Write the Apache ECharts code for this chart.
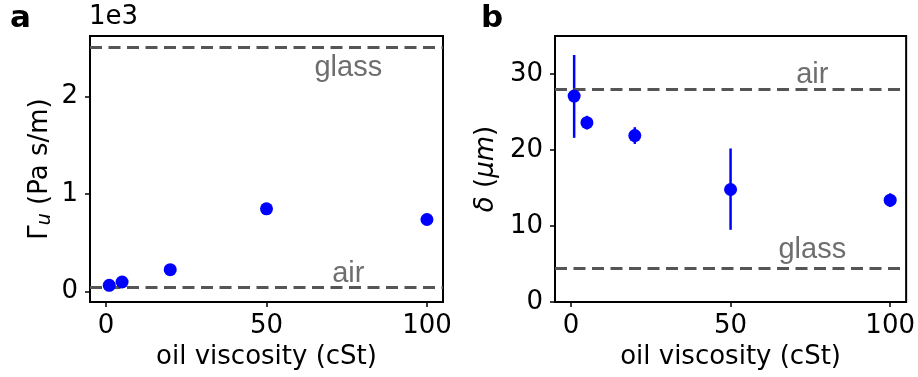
<!DOCTYPE html>
<html>
<head>
<meta charset="utf-8">
<script src="https://cdn.jsdelivr.net/npm/echarts@6/dist/echarts.min.js"></script>
<style>
  html, body { margin: 0; padding: 0; background: #fff; }
  #chart { width: 918px; height: 377px; }
</style>
</head>
<body>
<div id="chart"></div>
<script>
// oil viscosity (cSt)
const viscosity = [1, 5, 20, 50, 100];
// panel a: Gamma_u (Pa s/m)
const gammaU = [61, 95, 222, 846, 737];
const gammaAir = 45;
const gammaGlass = 2500;
// panel b: delta (um) with error bars
const delta = [27.1, 23.6, 21.9, 14.8, 13.4];
const deltaLow = [21.6, 22.7, 20.8, 9.5, 12.5];
const deltaHigh = [32.5, 24.5, 23.0, 20.2, 14.3];
const deltaAir = 28.0;
const deltaGlass = 4.5;
// tick labels
const xTicks = [0, 50, 100];
const gammaTicks = [0, 1000, 2000];
const deltaTicks = [0, 10, 20, 30];

const FONT = 'DejaVu Sans';
const FS = 26;
const BLUE = '#0000ff';
const GREY = '#555555';

const chart = echarts.init(document.getElementById('chart'));

function xAxisOpt(gridIndex) {
  return {
    type: 'value', gridIndex, min: -5, max: 105,
    name: 'oil viscosity (cSt)', nameLocation: 'middle', nameGap: 42,
    nameTextStyle: { fontFamily: FONT, fontSize: FS, color: '#000' },
    axisLine: { show: true, onZero: false, lineStyle: { color: '#000', width: 2 } },
    axisTick: { show: true, length: 5, customValues: xTicks, lineStyle: { color: '#000', width: 1.5 } },
    axisLabel: { customValues: xTicks, margin: 11, fontFamily: FONT, fontSize: FS, color: '#000' },
    splitLine: { show: false }
  };
}

function refLine(value, xIdx, yIdx) {
  return {
    type: 'line', xAxisIndex: xIdx, yAxisIndex: yIdx, data: [], silent: true,
    markLine: {
      silent: true, symbol: 'none', label: { show: false },
      lineStyle: { color: GREY, width: 3, type: [12, 6.5] },
      data: [{ yAxis: value }]
    }
  };
}

function textMark(x, y, text, xIdx, yIdx) {
  return {
    type: 'scatter', xAxisIndex: xIdx, yAxisIndex: yIdx, silent: true,
    symbolSize: 1, itemStyle: { color: 'transparent' }, z: 6,
    label: {
      show: true, position: 'inside', formatter: text,
      fontFamily: 'Liberation Sans', fontSize: 29, color: '#4a4a4a'
    },
    data: [[x, y]]
  };
}

const option = {
  animation: false,
  grid: [
    { left: 90, right: 475, top: 36, bottom: 75, show: true, borderColor: '#000', borderWidth: 2, backgroundColor: 'transparent' },
    { left: 555, right: 11, top: 36, bottom: 75, show: true, borderColor: '#000', borderWidth: 2, backgroundColor: 'transparent' }
  ],
  xAxis: [xAxisOpt(0), xAxisOpt(1)],
  yAxis: [
    {
      type: 'value', gridIndex: 0, min: -110, max: 2620,
      name: '{t|Γ}{s|u}{t| (Pa s/m)}', nameLocation: 'middle', nameGap: 35,
      nameTextStyle: {
        rich: {
          t: { fontFamily: FONT, fontSize: FS, color: '#000' },
          s: { fontFamily: FONT, fontSize: 19, fontStyle: 'italic', color: '#000', padding: [10, 0, 0, 0] }
        }
      },
      axisLine: { show: true, onZero: false, lineStyle: { color: '#000', width: 2 } },
      axisTick: { show: true, length: 5, customValues: gammaTicks, lineStyle: { color: '#000', width: 1.5 } },
      axisLabel: { customValues: gammaTicks, margin: 12, fontFamily: FONT, fontSize: FS, color: '#000',
        formatter: v => String(Math.round(v / 1000)) },
      splitLine: { show: false }
    },
    {
      type: 'value', gridIndex: 1, min: 0, max: 35,
      name: '{i|δ}{t| (}{i|μm}{t|)}', nameLocation: 'middle', nameGap: 56,
      nameTextStyle: {
        rich: {
          t: { fontFamily: FONT, fontSize: FS, color: '#000' },
          i: { fontFamily: FONT, fontSize: FS, fontStyle: 'italic', color: '#000' }
        }
      },
      axisLine: { show: true, onZero: false, lineStyle: { color: '#000', width: 2 } },
      axisTick: { show: true, length: 5, customValues: deltaTicks, lineStyle: { color: '#000', width: 1.5 } },
      axisLabel: { customValues: deltaTicks, margin: 12, fontFamily: FONT, fontSize: FS, color: '#000' },
      splitLine: { show: false }
    }
  ],
  graphic: [
    { type: 'text', left: 10, top: 3, style: { text: 'a', fontFamily: FONT, fontSize: 31, fontWeight: 'bold', fill: '#000' } },
    { type: 'text', left: 481, top: 3, style: { text: 'b', fontFamily: FONT, fontSize: 31, fontWeight: 'bold', fill: '#000' } },
    { type: 'text', left: 89, top: 4, style: { text: '1e3', fontFamily: FONT, fontSize: FS, fill: '#000' } }
  ],
  series: [
    refLine(gammaGlass, 0, 0),
    refLine(gammaAir, 0, 0),
    textMark(75.5, 2290, 'glass', 0, 0),
    textMark(75.5, 180, 'air', 0, 0),
    {
      type: 'scatter', xAxisIndex: 0, yAxisIndex: 0, symbolSize: 13,
      itemStyle: { color: BLUE, opacity: 1 }, z: 5,
      data: viscosity.map((x, i) => [x, gammaU[i]])
    },
    refLine(deltaAir, 1, 1),
    refLine(deltaGlass, 1, 1),
    textMark(75.6, 29.9, 'air', 1, 1),
    textMark(75.6, 6.8, 'glass', 1, 1),
    {
      type: 'custom', xAxisIndex: 1, yAxisIndex: 1, z: 4,
      renderItem: (params, api) => {
        const lo = api.coord([api.value(0), api.value(1)]);
        const hi = api.coord([api.value(0), api.value(2)]);
        return {
          type: 'line',
          shape: { x1: lo[0], y1: lo[1], x2: hi[0], y2: hi[1] },
          style: { stroke: BLUE, lineWidth: 2.5 }
        };
      },
      encode: { x: 0, y: [1, 2] },
      data: viscosity.map((x, i) => [x, deltaLow[i], deltaHigh[i]])
    },
    {
      type: 'scatter', xAxisIndex: 1, yAxisIndex: 1, symbolSize: 13,
      itemStyle: { color: BLUE, opacity: 1 }, z: 5,
      data: viscosity.map((x, i) => [x, delta[i]])
    }
  ]
};

chart.setOption(option);
</script>
</body>
</html>
